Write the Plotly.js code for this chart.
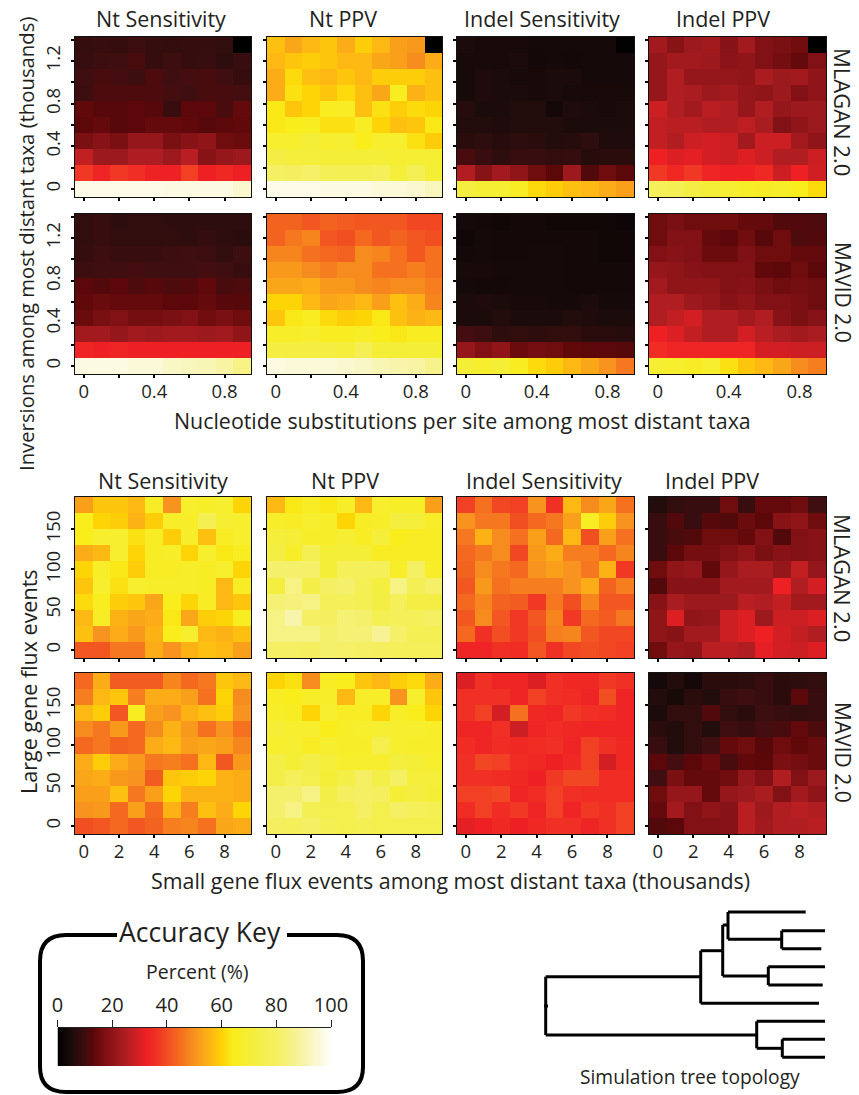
<!DOCTYPE html>
<html><head><meta charset="utf-8">
<script src="https://cdn.plot.ly/plotly-3.0.1.min.js"></script>
<style>html,body{margin:0;padding:0;background:#fff}#c{width:859px;height:1095px}</style>
</head><body><div id="c"></div>
<script>
// All grids are listed top row first.
const invX=[0,0.1,0.2,0.3,0.4,0.5,0.6,0.7,0.8,0.9];
const invY=[1.35,1.2,1.05,0.9,0.75,0.6,0.45,0.3,0.15,0];
const fluxX=[0,1,2,3,4,5,6,7,8,9];
const fluxY=[180,160,140,120,100,80,60,40,20,0];

const invMlaganNtSens=[[8.5,9,8.5,9.5,8.5,8,8.5,8.5,8,0],[9,9.5,10,11,8.5,9.5,8.5,9,7.5,9],[10,11,10.5,9.5,11.5,10,10.5,11,10,8.5],[9.5,11.5,11.5,11.5,11.5,10.5,10,11,11,10.5],[13.5,12.5,12.5,13,12.5,9,13,13,11,14],[13,14,12.5,13,14,14,13.5,12.5,13,13.5],[17,19,17,21,21,17,19,20,15,14.5],[27,22,22,24.5,24.5,22,26,19,21,22],[37,33,37,35.5,32.5,32.5,38,32,34,32],[97,97,97,97,97,96,96,96,96,94]];
const invMlaganNtPpv=[[57,53,56,58,54,59,56,52,51,0],[56,58,59,58,56,56,53,52,49,54],[54,61,57,56,58,56,59,59,59,57],[54,62,60,58,61,57,53,65,55,57],[63,58,60,65,66,57,62,59,61,60],[63,64,65,62,62,66,60,57,58,63],[68,68,70,68,69,64,68,68,62,59],[73,71,71,70,70,70,70,69,69,69],[80,79,81,77,76,76,78,71,77,70],[97,97,97,96,96,96,95,95,94,92]];
const invMlaganIndelSens=[[5,4.5,4.5,4.5,4,4,4,4,4,0.5],[4.5,4.5,4.5,5,3.5,4,3.5,4,4,4],[4.5,5.5,5,4.5,4.5,5,5,4,4,4],[4.5,5.5,5,5,4.5,5,4.5,4.5,4.5,4.5],[6.5,5,5,6,6,3.5,5.5,5,4.5,5],[6,6,5.5,6,6,6,5,5,5,5],[7,7.5,6.5,7.5,7,6,6.5,7.5,5.5,5.5],[11,9,7.5,9,9,8,8.5,6.5,7,7],[25,19,23,20,15,13,22,12,15,13],[72,70,69,66,61,59,57,56,54,52]];
const invMlaganIndelPpv=[[23,19,22,23,19,23,18,17,15.5,0],[21,23,23,22,19.5,20,18,16,14,18],[21,25,21,21,21,20,24,22,23,20],[21,25,24,22,23,21,20,22,18,20],[28,25,23,26,25,21,25,21,22,22],[27,26,26,25,25,26.5,24,18,20,22],[27,25,28,29,28,23,28,28,23,20],[32,30,31,29,28,30,28,25,25,28],[37,34,37,33,32,32,34,28,32,28.5],[78,76,73,70,69,67,66,67,64,61]];
const invMavidNtSens=[[8,9,7.5,8,8,7.5,7.5,7.5,7.5,7.5],[8,9,8,8,8,8,7.5,8.5,7.5,7],[8.5,9.5,9,9,9,9.5,10,9.5,8,9.5],[9.5,10,10,10.5,10,10,10,10.5,10,9],[13,12,13,11.5,12.5,11.5,12,13.5,11,11.5],[13.5,14.5,14,14,14,13,13,14,12.5,12.5],[14.5,16.5,18,16,16,17,18,15.5,17,15],[23,23,21,23,22,23,23,22,23,20],[33,32,33,32,32,32,32,32,32,32],[96,96,96,95,95,93,92,91,89,85]];
const invMavidNtPpv=[[43,43,41,43,42,41,41,41,39,39],[43,46,48,41,40,44,41,43,41,40],[48,48,45,44,43,49,48,45,41,45],[51,51,49,47,49,49,45,45,47,45],[53,53,54,51,51,49,48,49,49,47],[60,60,56,53,54,56,52,57,54,48],[58,63,65,61,59,60,63,57,55,56],[67,67,68,65,65,67,64,63,65,65],[72,72,72,72,71,77,70,70,70,70],[96,95,95,95,94,93,91,90,89,86]];
const invMavidIndelSens=[[4,3.5,3,3.5,3.5,3,3,3,3,2.5],[3,4,3.5,3.5,3.5,3.5,3.5,3.5,3,3],[3.5,4,3.5,3.5,4,4,3.5,3.5,3,3],[4.5,4.5,4,4,4,4,3.5,3.5,3.5,3.5],[4,3.5,3.5,4,4,4,3.5,3.5,3.5,3.5],[5,5.5,5,4.5,4.5,4,4,5,4,4],[5,5,6,5,5,5,6,5.5,5,5],[10.5,9.5,7.5,8,7.5,8,8,7,7,6.5],[21,18,20,14.5,16,15,13.5,13,13,12.5],[70,68,70,65,61,59,56,53,50,46]];
const invMavidIndelPpv=[[15,17,15,15,15.5,14,14,12,12,11.5],[15,18,18,14,13,15.5,12.5,15,11.5,12],[18,19,18,14.5,14.5,17.5,15,15,14,14],[21,20,19,18,18,18,13.5,13,15,13],[23,20,20,20,18,19,17,15,16,15],[25,25,22,21,19,20,18,18,17,15],[25,27,29,25,25,23,25,19,17,19],[32,30,27,25,25,29,26,24,23,24],[35,33,33,33,33,33,29,29,28,28],[69,68,66,68,62,58,56,53,49,47]];
const fluxMlaganNtSens=[[52,58,58,56,66,50,68,67,68,60],[64,60,59,55,59,67,67,76,69,68],[64,68,68,62,66,59,67,57,66,68],[54,56,68,60,66,67,60,68,63,65],[60,67,63,59,66,66,67,66,68,60],[58,68,62,68,67,67,67,66,56,66],[61,65,59,58,53,64,60,66,56,58],[56,66,55,53,54,63,53,59,60,65],[57,50,54,51,55,64,68,56,55,57],[41,41,46,46,54,50,55,57,56,52]];
const fluxMlaganNtPpv=[[56,63,66,63,67,56,68,67,67,52],[67,66,68,67,60,66,67,72,71,67],[71,70,67,67,69,66,71,64,66,66],[73,67,76,70,70,70,66,66,66,66],[82,82,81,70,78,78,78,67,80,67],[72,85,74,80,82,77,72,85,77,81],[83,84,85,78,78,76,73,78,73,73],[85,90,80,79,83,82,76,78,78,80],[85,85,85,82,83,83,87,81,76,76],[80,80,79,82,81,80,79,78,78,78]];
const fluxMlaganIndelSens=[[38,45,39,38,50,36,56,49,53,45],[50,46,46,40,44,46,52,66,59,50],[46,55,49,45,52,44,56,40,52,45],[44,46,49,39,51,54,47,47,44,48],[43,49,46,44,50,52,50,46,55,37],[41,51,45,47,47,47,50,54,43,47],[44,48,43,42,37,46,40,48,41,41],[41,49,41,37,41,48,37,44,42,46],[44,36,40,37,40,47,48,41,39,39],[33,33,36,35,41,36,39,40,39,38]];
const fluxMlaganIndelPpv=[[6,8,9,9,15,9,14,14,15,10],[9,12,9,12.5,12,14.5,13,19,20,15],[9,11,12,15,15,14,18,12,18,19],[9,13,16,16,18,20,17,19,18,19],[15,20,21,13.5,21,24,24,21,27,21],[12,19,19,19,23,23,23,32,25,29],[19,24,22,22,22,26,25,27,23,23],[20,30,20,21,28,30,22,28,28,30],[20,19,23,23,28,30,32,29,27,25],[15,21,20,26,26,25,31,29,28,30]];
const fluxMavidNtSens=[[44,54,42,42,42,48,44,46,58,56],[47,56,58,47,54,54,52,45,60,49],[56,59,41,65,52,50,55,57,59,50],[49,46,51,44,49,55,51,45,50,45],[44,46,43,44,54,56,52,53,52,48],[54,59,54,51,46,47,45,56,41,51],[53,54,51,50,42,58,59,60,55,54],[52,52,57,46,52,60,55,55,55,54],[50,51,44,52,44,55,47,57,54,60],[40,41,44,41,43,47,48,45,53,54]];
const fluxMavidNtPpv=[[60,62,49,66,64,58,56,59,61,54],[66,64,67,67,56,67,67,50,68,58],[67,66,60,68,66,66,60,67,64,60],[70,68,68,64,67,68,69,68,68,67],[68,69,66,68,67,67,75,68,67,67],[74,70,74,71,68,68,68,72,70,68],[74,78,75,70,74,80,74,80,71,71],[82,82,85,74,79,80,79,70,72,70],[82,85,76,75,75,80,75,80,78,76],[79,78,80,76,75,76,75,75,75,75]];
const fluxMavidIndelSens=[[30,36,33,33,30,36,34,34,37,36],[36,36,36,33,38,36,35,33,40,33],[36,38,29,45,34,33,37,36,35,33],[33,33,36,28,33,35,34,33,33,33],[35,33,35,34,35,36,33,38,36,34],[36,39,38,35,34,32,34,38,29,34],[36,36,35,34,32,37,39,39,35,35],[38,38,39,33,35,38,36,35,35,35],[35,38,35,37,33,38,33,37,36,38],[31,32,34,32,34,36,36,33,36,38]];
const fluxMavidIndelPpv=[[4,6,3.5,7,7,7.5,9,7,7.5,8],[6,4.5,7,6,9,10,9,7,13,9],[5,8,8,12,8,7,9.5,9,8,9],[7,6,8,6,10,9,10.5,11,14,11.5],[9,6,8,10,14,15,12.5,15,13.5,14.5],[13,10.5,13,14.5,11,13.5,13,17,16,14.5],[10,17,14,14,15.5,21,18,25,18,22],[15,21,21,14,21,22,24,18,23,20],[14,23,18,20,19,26,22,25,26,25],[12,13,18,18,19,26,23,25,25,26]];

const keyPercent=[0,2,4,6,8,10,12,14,16,18,20,22,24,26,28,30,32,34,36,38,40,42,44,46,48,50,52,54,56,58,60,62,64,66,68,70,72,74,76,78,80,82,84,86,88,90,92,94,96,98,100];

const colTitles=["Nt Sensitivity","Nt PPV","Indel Sensitivity","Indel PPV"];
const invXTicks=[0,0.2,0.4,0.6,0.8], invXText=["0","","0.4","","0.8"];
const invYTicks=[0,0.2,0.4,0.6,0.8,1,1.2,1.4], invYText=["0","","0.4","","0.8","","1.2",""];
const fluxXTicks=[0,2,4,6,8], fluxXText=["0","2","4","6","8"];
const fluxYTicks=[0,50,100,150], fluxYText=["0","50","100","150"];

const heat=[[0,'#000000'],[0.05,'#1c0b0b'],[0.10,'#3f0e10'],[0.13,'#5c0709'],[0.15,'#6e0c0e'],[0.20,'#8f1519'],[0.25,'#b01e22'],[0.32,'#ee2024'],[0.36,'#f03024'],[0.40,'#f14f22'],[0.44,'#f4691f'],[0.50,'#f7931e'],[0.56,'#fdb813'],[0.60,'#fdd406'],[0.64,'#f9ed1b'],[0.72,'#f4ee40'],[0.82,'#f5f06c'],[0.90,'#f8f4ac'],[0.96,'#fcfae0'],[1,'#ffffff']];

const W=859,H=1095;
const FONT='"Open Sans", sans-serif', TXT='#231f20';
const px=v=>v/W, py=v=>1-v/H;
const colBox=[[75,251],[267,442],[457,634],[649,826]];
const rowBox=[[37,197],[214,374],[497,658],[673,834]];
const grids=[
 [invMlaganNtSens,invMlaganNtPpv,invMlaganIndelSens,invMlaganIndelPpv],
 [invMavidNtSens,invMavidNtPpv,invMavidIndelSens,invMavidIndelPpv],
 [fluxMlaganNtSens,fluxMlaganNtPpv,fluxMlaganIndelSens,fluxMlaganIndelPpv],
 [fluxMavidNtSens,fluxMavidNtPpv,fluxMavidIndelSens,fluxMavidIndelPpv]];

const data=[];
const layout={width:W,height:H,margin:{l:0,r:0,t:0,b:0},paper_bgcolor:'#fff',plot_bgcolor:'#fff',showlegend:false,
  font:{family:FONT,color:TXT},annotations:[],shapes:[]};
let n=0;
function axisBase(){return {ticks:'outside',ticklen:3,tickwidth:2,tickcolor:'#000',showline:true,mirror:true,linecolor:'#111',linewidth:1.3,showgrid:false,zeroline:false,tickmode:'array',tickfont:{family:FONT,size:18.5,color:TXT}};}
rowBox.forEach((rb,r)=>{colBox.forEach((cb,c)=>{
  n++;
  const inv=r<2;
  const xs=inv?invX:fluxX, ys=inv?invY:fluxY;
  const xn='x'+(n===1?'':n), yn='y'+(n===1?'':n);
  data.push({type:'heatmap',x:xs,y:ys,z:grids[r][c],xaxis:xn,yaxis:yn,colorscale:heat,zmin:0,zmax:100,showscale:false,hoverinfo:'skip'});
  const xa=axisBase(), ya=axisBase();
  Object.assign(xa,{domain:[px(cb[0]),px(cb[1])],anchor:yn,
    range:inv?[-0.05,0.95]:[-0.5,9.5],
    tickvals:inv?invXTicks:fluxXTicks,ticktext:inv?invXText:fluxXText,
    showticklabels:(r===1||r===3),ticklabelstandoff:-3});
  Object.assign(ya,{domain:[py(rb[1]),py(rb[0])],anchor:xn,
    range:inv?[-0.075,1.425]:[-10,190],
    tickvals:inv?invYTicks:fluxYTicks,ticktext:inv?invYText:fluxYText,
    showticklabels:c===0,tickangle:-90,ticklabelstandoff:3});
  layout['xaxis'+(n===1?'':n)]=xa;
  layout['yaxis'+(n===1?'':n)]=ya;
});});

// colour key
n++;
data.push({type:'heatmap',x:keyPercent,y:[0],z:[keyPercent],xaxis:'x'+n,yaxis:'y'+n,colorscale:heat,zmin:0,zmax:100,showscale:false,zsmooth:'best',hoverinfo:'skip'});
layout['xaxis'+n]={domain:[px(57.5),px(331)],anchor:'y'+n,side:'top',range:[0,100],tickmode:'array',tickvals:[0,20,40,60,80,100],ticks:'outside',ticklen:7,tickwidth:1,tickcolor:'#222',showline:true,linecolor:'#222',linewidth:1,showgrid:false,zeroline:false,tickfont:{family:FONT,size:20,color:TXT}};
layout['yaxis'+n]={domain:[py(1066),py(1028)],anchor:'x'+n,range:[-0.5,0.5],showticklabels:false,ticks:'',showline:false,showgrid:false,zeroline:false,fixedrange:true};

function note(text,x,y,size,angle){layout.annotations.push({text,xref:'paper',yref:'paper',x:px(x),y:py(y),xanchor:'center',yanchor:'middle',showarrow:false,textangle:angle||0,font:{family:FONT,size,color:TXT}});}
[[161,343,542,723],[163,345,544,712]].forEach((cs,i)=>cs.forEach((cx,j)=>note(colTitles[j],cx,i===0?18:480,21.5)));
note("MLAGAN 2.0",843,112,22,90);note("MAVID 2.0",843,292,21,90);
note("MLAGAN 2.0",843,578,22,90);note("MAVID 2.0",843,752,21,90);
note("Inversions among most distant taxa (thousands)",26,244,20.3,-90);
note("Large gene flux events",28,682,21.5,-90);
note("Nucleotide substitutions per site among most distant taxa",462,420,21.4);
note("Small gene flux events among most distant taxa (thousands)",450,880,21.4);
note("Accuracy Key",200,932,26.5);
note("Percent (%)",197,971,19.5);
note("Simulation tree topology",690,1076,19.2);

// key frame
const fp=(x,y)=>px(x)+' '+py(y);
layout.shapes.push({type:'path',xref:'paper',yref:'paper',line:{color:'#000',width:4},
 path:'M '+fp(117,935)+' L '+fp(66,935)+' Q '+fp(40,935)+' '+fp(40,961)+' L '+fp(40,1067)+' Q '+fp(40,1092)+' '+fp(66,1092)+' L '+fp(337,1092)+' Q '+fp(363,1092)+' '+fp(363,1067)+' L '+fp(363,961)+' Q '+fp(363,935)+' '+fp(337,935)+' L '+fp(287,935)});

// species tree (drawn in page pixels)
const treeSegs=[[545.7,976.7,545.7,1035],[545.7,976.7,700.7,976.7],[545.7,1035,756.7,1035],[700.7,950.7,700.7,1003.3],[700.7,1003.3,819,1003.3],[700.7,950.7,722.7,950.7],[722.7,925,722.7,976],[722.7,976,768.3,976],[768.3,966.7,768.3,985],[768.3,966.7,825,966.7],[768.3,985,822.7,985],[722.7,925,728,925],[728,912,728,939.3],[728,912,805.7,912],[728,939.3,781.7,939.3],[781.7,930.7,781.7,948.7],[781.7,930.7,825,930.7],[781.7,948.7,821.3,948.7],[756.7,1021.3,756.7,1048.3],[756.7,1021.3,825,1021.3],[756.7,1048.3,782.3,1048.3],[782.3,1039.3,782.3,1057.3],[782.3,1039.3,825,1039.3],[782.3,1057.3,825,1057.3],[544,1006,548,1006]];
treeSegs.forEach(s=>layout.shapes.push({type:'line',xref:'paper',yref:'paper',x0:px(s[0]),y0:py(s[1]),x1:px(s[2]),y1:py(s[3]),line:{color:'#000',width:3}}));

Plotly.newPlot('c',data,layout,{displayModeBar:false,staticPlot:true});
</script></body></html>
